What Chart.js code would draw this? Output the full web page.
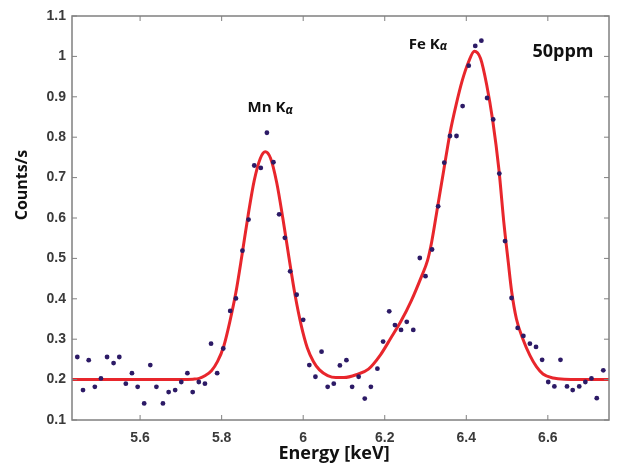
<!DOCTYPE html>
<html>
<head>
<meta charset="utf-8">
<script src="https://cdn.jsdelivr.net/npm/chart.js@4"></script>
<style>
  body { margin: 0; background: #fff; }
</style>
</head>
<body>
<canvas id="spectrum" width="621" height="474"></canvas>
<script>
// measured counts (dots)
const energy = [5.446, 5.460, 5.474, 5.489, 5.504, 5.519, 5.535, 5.549, 5.565, 5.580,
  5.594, 5.610, 5.625, 5.640, 5.656, 5.670, 5.686, 5.701, 5.716, 5.729,
  5.744, 5.759, 5.774, 5.789, 5.804, 5.821, 5.835, 5.851, 5.866, 5.880,
  5.896, 5.911, 5.927, 5.941, 5.955, 5.968, 5.984, 6.000, 6.015, 6.030,
  6.045, 6.060, 6.075, 6.090, 6.106, 6.120, 6.136, 6.151, 6.166, 6.182,
  6.196, 6.211, 6.225, 6.240, 6.254, 6.270, 6.286, 6.300, 6.316, 6.331,
  6.346, 6.360, 6.376, 6.391, 6.406, 6.422, 6.437, 6.451, 6.466, 6.481,
  6.495, 6.511, 6.526, 6.540, 6.556, 6.571, 6.586, 6.601, 6.616, 6.631,
  6.647, 6.661, 6.677, 6.692, 6.707, 6.720, 6.736];
const counts = [0.256, 0.174, 0.248, 0.182, 0.203, 0.256, 0.241, 0.256, 0.190, 0.216,
  0.182, 0.141, 0.236, 0.182, 0.141, 0.169, 0.174, 0.194, 0.216, 0.169,
  0.194, 0.190, 0.289, 0.216, 0.277, 0.370, 0.401, 0.519, 0.596, 0.730,
  0.724, 0.811, 0.738, 0.609, 0.551, 0.468, 0.410, 0.348, 0.236, 0.207,
  0.269, 0.182, 0.190, 0.235, 0.248, 0.182, 0.207, 0.153, 0.182, 0.227,
  0.294, 0.369, 0.335, 0.323, 0.343, 0.323, 0.501, 0.456, 0.522, 0.629,
  0.737, 0.803, 0.803, 0.877, 0.977, 1.026, 1.039, 0.897, 0.844, 0.710,
  0.543, 0.402, 0.328, 0.308, 0.289, 0.281, 0.249, 0.194, 0.183, 0.249,
  0.183, 0.174, 0.183, 0.194, 0.203, 0.154, 0.223];

// fitted curve (red line)
const fitEnergy = [5.433, 5.700, 5.730, 5.745, 5.760, 5.775, 5.790, 5.805, 5.820, 5.835,
  5.850, 5.865, 5.880, 5.895, 5.907, 5.920, 5.935, 5.950, 5.965, 5.980,
  5.995, 6.010, 6.025, 6.040, 6.060, 6.080, 6.100, 6.130, 6.160, 6.190,
  6.215, 6.240, 6.265, 6.290, 6.305, 6.315, 6.330, 6.345, 6.360, 6.375,
  6.390, 6.405, 6.420, 6.435, 6.450, 6.465, 6.480, 6.492, 6.503, 6.511,
  6.523, 6.539, 6.556, 6.572, 6.588, 6.613, 6.640, 6.750];
const fitCounts = [0.200, 0.200, 0.201, 0.203, 0.210, 0.222, 0.245, 0.282, 0.343, 0.416,
  0.509, 0.607, 0.693, 0.748, 0.764, 0.748, 0.688, 0.600, 0.503, 0.410,
  0.335, 0.279, 0.245, 0.224, 0.210, 0.205, 0.205, 0.212, 0.226, 0.262,
  0.303, 0.345, 0.395, 0.455, 0.495, 0.540, 0.630, 0.720, 0.810, 0.880,
  0.940, 0.985, 1.013, 0.995, 0.930, 0.840, 0.720, 0.590, 0.490, 0.420,
  0.350, 0.300, 0.260, 0.232, 0.214, 0.204, 0.201, 0.200];

const xTicks = [5.6, 5.8, 6, 6.2, 6.4, 6.6];
const yTicks = [0.1, 0.2, 0.3, 0.4, 0.5, 0.6, 0.7, 0.8, 0.9, 1, 1.1];
const peakNames = ["Mn K", "Fe K"];
const peakEnergy = [5.919, 6.306];
const peakHeight = [0.872, 1.03];

const TEXT = "#111";
const FRAME = "#808080";

// frame with inward ticks, axis titles and peak labels
const decorations = {
  id: "decorations",
  afterDraw(chart) {
    const { ctx, chartArea: a, scales } = chart;
    ctx.save();
    ctx.strokeStyle = FRAME;
    ctx.lineWidth = 1.5;
    ctx.strokeRect(a.left, a.top, a.right - a.left, a.bottom - a.top);
    ctx.lineWidth = 1;
    ctx.beginPath();
    xTicks.forEach(v => {
      const px = scales.x.getPixelForValue(v);
      ctx.moveTo(px, a.bottom); ctx.lineTo(px, a.bottom - 5);
      ctx.moveTo(px, a.top); ctx.lineTo(px, a.top + 5);
    });
    yTicks.forEach(v => {
      const py = scales.y.getPixelForValue(v);
      ctx.moveTo(a.left, py); ctx.lineTo(a.left + 5, py);
      ctx.moveTo(a.right, py); ctx.lineTo(a.right - 5, py);
    });
    ctx.stroke();

    ctx.fillStyle = TEXT;
    ctx.textAlign = "center";
    ctx.textBaseline = "middle";
    ctx.font = "bold 18px 'Open Sans'";
    ctx.fillText("Energy [keV]", 334, 454);
    ctx.save();
    ctx.translate(22, 185);
    ctx.rotate(-Math.PI / 2);
    ctx.font = "bold 16px 'Open Sans'";
    ctx.fillText("Counts/s", 0, 0);
    ctx.restore();

    // peak names with a small alpha
    peakNames.forEach((name, i) => {
      const px = scales.x.getPixelForValue(peakEnergy[i]);
      const py = scales.y.getPixelForValue(peakHeight[i]);
      ctx.font = "bold 15px 'Open Sans'";
      const w1 = ctx.measureText(name).width;
      ctx.font = "italic bold 12px 'Open Sans'";
      const w2 = ctx.measureText("α").width;
      const x0 = px - (w1 + w2) / 2;
      ctx.textAlign = "left";
      ctx.font = "bold 15px 'Open Sans'";
      ctx.fillText(name, x0, py);
      ctx.font = "italic bold 12px 'Open Sans'";
      ctx.fillText("α", x0 + w1, py + 2);
    });

    ctx.textAlign = "center";
    ctx.font = "bold 18px 'Open Sans'";
    ctx.fillText("50ppm", scales.x.getPixelForValue(6.637), scales.y.getPixelForValue(1.011));
    ctx.restore();
  }
};

new Chart(document.getElementById("spectrum"), {
  type: "scatter",
  data: {
    datasets: [
      {
        label: "Measured",
        data: energy.map((e, i) => ({ x: e, y: counts[i] })),
        backgroundColor: "#2c1a66",
        borderColor: "#2c1a66",
        pointRadius: 2.4,
        borderWidth: 0,
        order: 0,
      },
      {
        label: "Fit",
        type: "line",
        data: fitEnergy.map((e, i) => ({ x: e, y: fitCounts[i] })),
        borderColor: "#e8262c",
        borderWidth: 3,
        pointRadius: 0,
        cubicInterpolationMode: "monotone",
        fill: false,
        order: 1,
      },
    ],
  },
  options: {
    responsive: false,
    animation: false,
    layout: { padding: { top: 16, right: 12, left: 0, bottom: 0 } },
    plugins: {
      legend: { display: false },
      tooltip: { enabled: false },
    },
    scales: {
      x: {
        type: "linear",
        min: 5.433,
        max: 6.75,
        grid: { display: false },
        border: { display: false },
        afterBuildTicks: s => { s.ticks = xTicks.map(v => ({ value: v })); },
        afterFit: s => { s.height = 54; },
        ticks: {
          padding: 2,
          color: "#3a3a3a",
          font: { family: "Liberation Sans", size: 14, weight: "bold" },
          callback: v => String(v),
        },
      },
      y: {
        min: 0.1,
        max: 1.1,
        grid: { display: false },
        border: { display: false },
        afterBuildTicks: s => { s.ticks = yTicks.map(v => ({ value: v })); },
        afterFit: s => { s.width = 72; },
        ticks: {
          padding: -2,
          color: "#3a3a3a",
          font: { family: "Liberation Sans", size: 14, weight: "bold" },
          callback: v => String(+v.toFixed(1)),
        },
      },
    },
  },
  plugins: [decorations],
});
</script>
</body>
</html>
